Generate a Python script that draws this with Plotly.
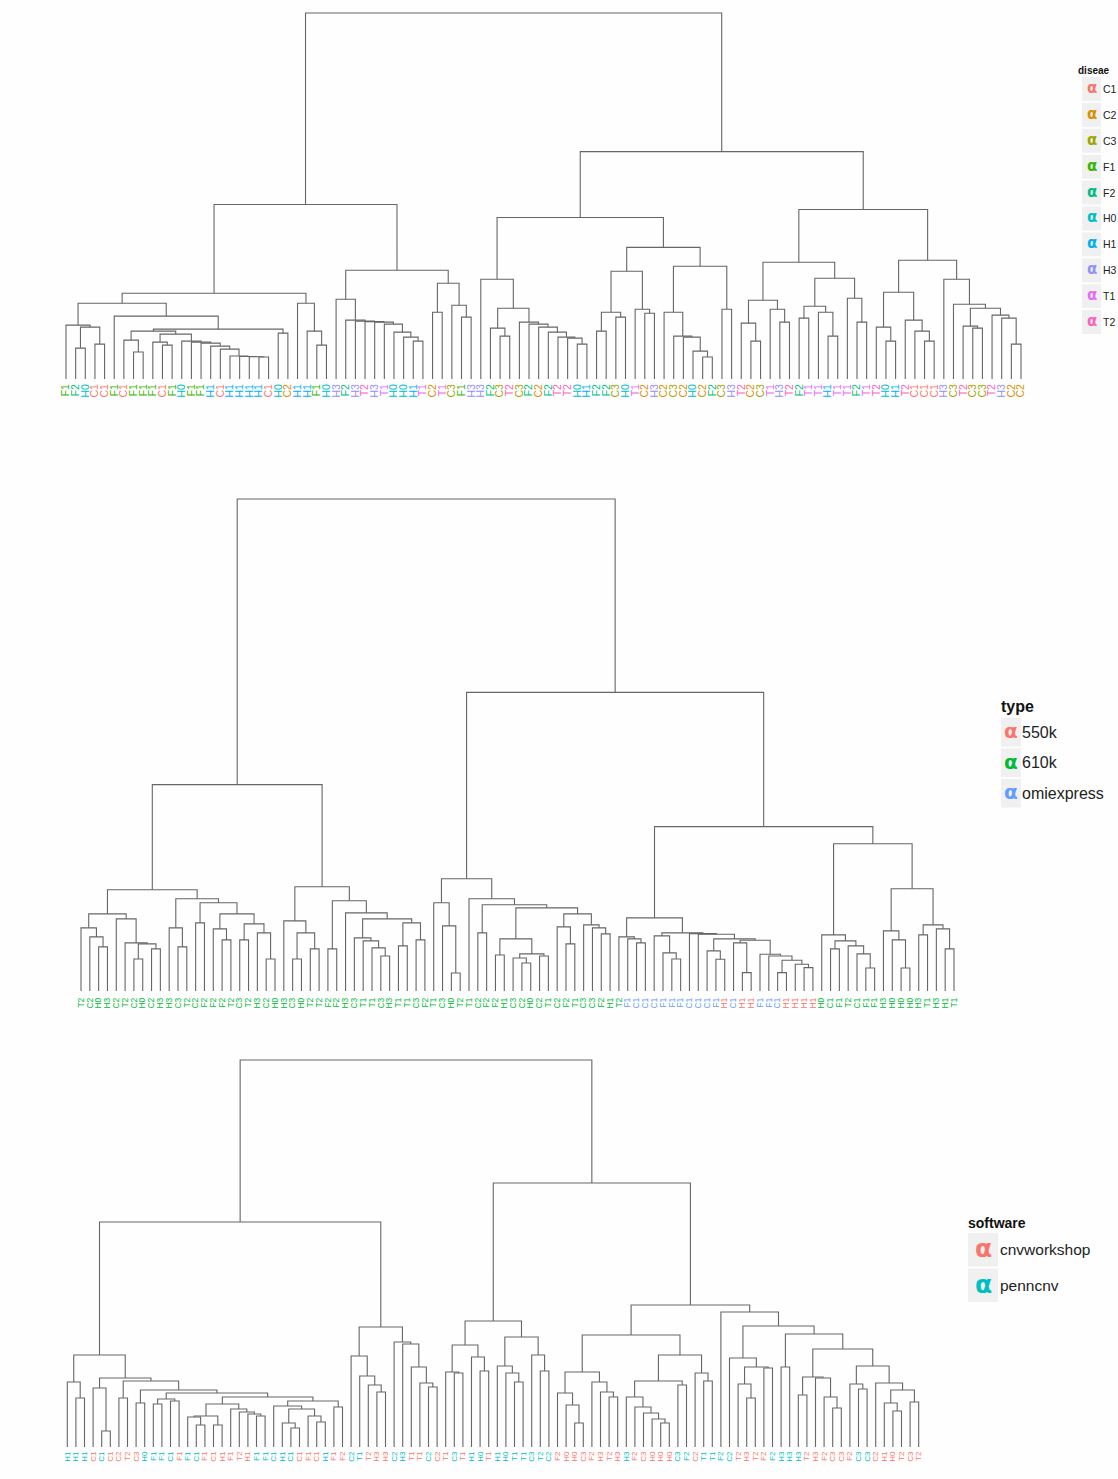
import plotly.graph_objects as go

W, H = 1118, 1479
FONT = "Liberation Sans, Arial, sans-serif"
LINE_COLOR = "#666666"

# ---------------- panel 1: disease ----------------
disease_levels = ["C1", "C2", "C3", "F1", "F2", "H0", "H1", "H3", "T1", "T2"]
disease_colors = ["#F8766D", "#D89000", "#A3A500", "#39B600", "#00BF7D",
                  "#00BFC4", "#00B0F6", "#9590FF", "#E76BF3", "#FF62BC"]

top_labels = [
    "F1", "F2", "H0", "C1", "C1", "F1", "C1", "F1", "F1", "F1",
    "C1", "F1", "H0", "F1", "F1", "H1", "C1", "H1", "H1", "H1",
    "H1", "C1", "H0", "C2", "H1", "H1", "F1", "H0", "H3", "F2",
    "H3", "T2", "H3", "T1", "H0", "H0", "H1", "T1", "C2", "T1",
    "C3", "F1", "H3", "H3", "F2", "C3", "T2", "C3", "F2", "C2",
    "F2", "T2", "T2", "H0", "H1", "F2", "F2", "C3", "H0", "T1",
    "C2", "H3", "C2", "C3", "C2", "H0", "C2", "F2", "C3", "H3",
    "T2", "C2", "C3", "T1", "H3", "T2", "F2", "T1", "T1", "H1",
    "T1", "T1", "F2", "T1", "T2", "H0", "H1", "T2", "C1", "C1",
    "C1", "H3", "C3", "T2", "C3", "C3", "T2", "H3", "C2", "C2",
]

# merge tree: (height, left, right); leaves are 1-based positions
top_tree = (367,
    (175,
        (86,
            (76,
                (54, 1, (52, (31, 2, 3), (35, 4, 5))),
                (63, 6,
                    (50,
                        (48,
                            (39, 7, (27, 8, 9)),
                            (45,
                                (37, 10, (34, 11, 12)),
                                (38, 13, (37, 14, (36, 15, (33, 16, (30, 17,
                                    (23, 18, (22.6, 19, (22.3, 20, (22, 21, 22))))))))))),
                        (46, 23, 24)))),
            (76, 25, (48, 26, (34, 27, 28)))),
        (109,
            (80, 29, (59, 30, (58, 31, (57.5, 32, (57, 33, (55, 34,
                (47, 35, (42, 36, (38, 37, 38))))))))),
            (96, (67, 39, 40), (74, 41, (62, 42, 43))))),
    (228,
        (162,
            (100, 44,
                (71,
                    (51, 45, (43, 46, 47)),
                    (57, 48, (55, 49, (52, 50, (47, 51, (42, 52, (41, 53, (35, 54, 55))))))))),
            (132,
                (108,
                    (67, (48, 56, 57), (62, 58, 59)),
                    (70, 60, (66, 61, 62))),
                (113,
                    (67, 63, (43, 64, (42, 65, (28, 66, (22, 67, 68))))),
                    (70, 69, 70)))),
        (170,
            (117,
                (79, (56, 71, (38, 72, 73)), (70, 74, (57, 75, 76))),
                (101,
                    (73, (61, 77, 78), (67, 79, (43, 80, 81))),
                    (81, 82, (57, 83, 84)))),
            (119,
                (87,
                    (52, 85, (38, 86, 87)),
                    (59, 88, (48, 89, (38, 90, 91)))),
                (100, 92,
                    (75, 93,
                        (71,
                            (53, 94, (51, 95, 96)),
                            (64, 97, (61, 98, (35, 99, 100))))))))))

# ---------------- panel 2: type ----------------
type_levels = ["550k", "610k", "omiexpress"]
type_colors = ["#F8766D", "#00BA38", "#619CFF"]

mid_labels = [
    "T2", "C2", "H0", "H3", "C2", "T2", "C2", "H0", "C2", "H3",
    "H3", "C3", "T2", "C2", "F2", "F2", "F2", "T2", "C3", "T2",
    "H3", "C2", "H0", "H3", "C3", "H0", "T2", "T2", "F2", "F2",
    "H3", "C3", "T1", "T1", "C3", "H3", "T1", "T1", "C3", "F2",
    "T1", "C3", "H0", "T2", "T1", "C2", "F2", "F2", "H1", "C3",
    "C2", "H0", "C2", "T1", "C2", "F2", "T1", "C3", "C3", "F2",
    "H1", "T2", "F1", "C1", "C1", "C1", "F1", "F1", "F1", "C1",
    "C1", "C1", "F1", "H1", "C1", "H1", "H1", "F1", "F1", "C1",
    "H1", "H1", "H1", "H1", "H0", "C1", "F1", "T2", "C1", "F1",
    "F1", "H3", "H0", "H0", "H0", "H3", "T1", "H3", "H1", "T1",
]
mid_type = (["610k"] * 62 + ["omiexpress"] * 11 + ["550k", "omiexpress", "550k", "550k"]
            + ["omiexpress"] * 3 + ["550k"] * 4 + ["610k"] * 16)

mid_tree = (491,
    (206,
        (101,
            (77,
                (63, 1, (54, 2, (44, 3, 4))),
                (72, 5, (48, 6, (47, (32, 7, 8), (42, 9, 10))))),
            (92,
                (63, 11, (44, 12, 13)),
                (88,
                    (68, 14, 15),
                    (77,
                        (62, 16, (51, 17, 18)),
                        (67, (51, 19, 20), (58, 21, (32, 22, 23))))))),
        (104,
            (70, 24, (58, (32, 25, 26), (42, 27, 28))),
            (90,
                (42, 29, 30),
                (78, 31,
                    (72,
                        (53, 32, (50, 33, (43, 34, (35, 35, 36)))),
                        (68, (45, 37, 38), (51, 39, 40))))))),
    (298,
        (112,
            (88, 41, (65, 42, (18, 43, 44))),
            (92, 45,
                (86,
                    (58, 46, 47),
                    (83,
                        (52, (36, 48, 49), (37, (33, 50, (28, 51, 52)), (35, 53, 54))),
                        (77,
                            (64, 55, (47, 56, 57)),
                            (66, 58, (63, 59, (57, 60, 61)))))))),
        (164,
            (73,
                (54, 62, (52, 63, (48, 64, 65))),
                (58,
                    (55, 66, (38, 67, (32, 68, 69))),
                    (57.3, 70,
                        (56.7, 71,
                            (52,
                                (40, 72, (31.7, 73, 74)),
                                (50.7,
                                    (48, 75, (18.3, 76, 77)),
                                    (36.7, 78, (35, 79,
                                        (30.7, (18.3, 80, 81), (26.7, 82, (23.3, 83, 84))))))))))),
            (147,
                (56, 85, (50, (42, 86, 87), (45, 88, (37, 89, (23, 90, 91))))),
                (102,
                    (60, 92, (51, 93, (23, 94, 95))),
                    (66, (56, 96, 97), (62, 98, (42, 99, 100))))))))

# ---------------- panel 3: software ----------------
soft_levels = ["cnvworkshop", "penncnv"]
soft_colors = ["#F8766D", "#00BFC4"]

bot_labels = [
    "H1", "H1", "H1", "C1", "C1", "C1", "C2", "T2", "C3", "H0",
    "F1", "F1", "C1", "F1", "F1", "C1", "F1", "C1", "H1", "F1",
    "T2", "H1", "F1", "F1", "C1", "H1", "C1", "C1", "F1", "C1",
    "H1", "F1", "F2", "C2", "T1", "T2", "H3", "H3", "C2", "H3",
    "T1", "T1", "C2", "C2", "T1", "C3", "T1", "H1", "H0", "T1",
    "H1", "H0", "T1", "T1", "C3", "T2", "C2", "F2", "H0", "H0",
    "C3", "F2", "H3", "T2", "H3", "H3", "F2", "C3", "H0", "H0",
    "H0", "C3", "F2", "C2", "T1", "T1", "F2", "C2", "T2", "H3",
    "T2", "F2", "F2", "H3", "H3", "H3", "T2", "H3", "F2", "C3",
    "C3", "F2", "C3", "C3", "C2", "H1", "H0", "T2", "C3", "T2",
]
_p, _c = "penncnv", "cnvworkshop"
bot_soft = [
    _p, _p, _p, _c, _p, _c, _c, _c, _c, _p,
    _p, _p, _p, _c, _p, _p, _c, _c, _c, _c,
    _c, _c, _p, _p, _p, _p, _p, _c, _c, _c,
    _p, _c, _c, _p, _p, _c, _c, _c, _p, _p,
    _c, _c, _p, _c, _c, _p, _c, _p, _p, _c,
    _p, _p, _p, _p, _p, _p, _p, _c, _c, _c,
    _c, _c, _c, _c, _c, _p, _c, _c, _c, _c,
    _c, _p, _p, _c, _p, _p, _p, _p, _c, _c,
    _c, _c, _p, _p, _p, _p, _c, _c, _c, _c,
    _c, _c, _p, _p, _c, _c, _c, _c, _c, _c,
]

bot_tree = (387,
    (225,
        (92,
            (65, 1, (49, 2, 3)),
            (69,
                (59, 4, (16, 5, 6)),
                (66,
                    (49, 7, 8),
                    (57,
                        (44, 9, 10),
                        (54,
                            (48, (43, 11, 12), (46, 13, 14)),
                            (50,
                                (43,
                                    (31, (30, 15, (22, 16, 17)), (22, 18, 19)),
                                    (38, 20, (35, 21, (33, 22, (31, 23, 24))))),
                                (46,
                                    (41, 25,
                                        (38,
                                            (24, 26, (19, 27, 28)),
                                            (31, 29, (25, 30, 31)))),
                                    (40, 32, 33)))))))),
        (120,
            (91, 34, (71, 35, (62, 36, (55, 37, 38)))),
            (105, 39, (103, 40, (80, 41, (64, 42, (60, 43, 44))))))),
    (264,
        (126,
            (102, (75, 45, (74, 46, 47)), (90, 48, (76, 49, 50))),
            (110,
                (81, 51, (74, 52, (65, 53, 54))),
                (92, 55, (76, 56, 57)))),
        (142,
            (112,
                (75,
                    (54, 58, (42, 59, (24, 60, 61))),
                    (65, 62, (55, 63, (50, 64, 65)))),
                (92,
                    (66,
                        (50, 66, (40, 67, (34, 68, (28, 69, (24, 70, 71))))),
                        (62, 72, 73)),
                    (74, 74, (66, 75, 76)))),
            (135, 77,
                (121,
                    (89, 78, (80, (63, 79, (49, 80, 81)), (79, 82, 83))),
                    (113,
                        (80, 84, 85),
                        (98,
                            (70, (52, 86, 87), (69, 88, (50, 89, (39, 90, 91)))),
                            (81,
                                (63, 92, (58, 93, 94)),
                                (64, 95, (57, (44, 96, (36, 97, 98)), (45, 99, 100)))))))))))


def dendro_segments(tree, n):
    """Walk the merge tree and return the elbow segments (x, height)."""
    xs, ys, leaves = [], [], []

    def rec(node):
        if isinstance(node, int):
            leaves.append(node)
            return float(node), 0.0
        h, a, b = node
        xa, ha = rec(a)
        xb, hb = rec(b)
        xs.extend([xa, xa, xb, xb, None])
        ys.extend([ha, h, h, hb, None])
        return (xa + xb) / 2.0, h

    rec(tree)
    assert leaves == list(range(1, n + 1)), "leaf order mismatch"
    return xs, ys


def colored(text, color):
    return f'<span style="color:{color}">{text}</span>'


fig = go.Figure()

panels = [
    dict(tree=top_tree, labels=top_labels, groups=top_labels, levels=disease_levels,
         colors=disease_colors, x0=66, x1=1021, yb=379, yr=13, fs=10.5, stand=2),
    dict(tree=mid_tree, labels=mid_labels, groups=mid_type, levels=type_levels,
         colors=type_colors, x0=81, x1=954, yb=991, yr=499, fs=8.5, stand=4),
    dict(tree=bot_tree, labels=bot_labels, groups=bot_soft, levels=soft_levels,
         colors=soft_colors, x0=67.3, x1=918.7, yb=1447, yr=1060, fs=8, stand=2),
]

for i, p in enumerate(panels):
    n = len(p["labels"])
    root_h = p["tree"][0]
    xs, ys = dendro_segments(p["tree"], n)
    sfx = "" if i == 0 else str(i + 1)
    fig.add_trace(go.Scatter(x=xs, y=ys, mode="lines",
                             line=dict(color=LINE_COLOR, width=1.1),
                             hoverinfo="skip", showlegend=False,
                             xaxis="x" + sfx, yaxis="y" + sfx))
    dx = (p["x1"] - p["x0"]) / (n - 1)
    pad = 0.7
    xdom = [(p["x0"] - pad * dx) / W, (p["x1"] + pad * dx) / W]
    ppu = (p["yb"] - p["yr"]) / root_h
    top_extra = 2.0 / ppu
    ydom = [1 - p["yb"] / H, 1 - (p["yr"] - 2.0) / H]
    cmap = dict(zip(p["levels"], p["colors"]))
    ticktext = [colored(lab, cmap[g]) for lab, g in zip(p["labels"], p["groups"])]
    fig.layout["xaxis" + sfx] = dict(
        domain=xdom, range=[1 - pad, n + pad], anchor="y" + sfx,
        tickmode="array", tickvals=list(range(1, n + 1)), ticktext=ticktext,
        tickangle=-90, ticks="", showline=False, showgrid=False, zeroline=False,
        tickfont=dict(family=FONT, size=p["fs"]), ticklabelstandoff=p["stand"],
        fixedrange=True)
    fig.layout["yaxis" + sfx] = dict(
        domain=ydom, range=[0, root_h + top_extra], anchor="x" + sfx,
        visible=False, showgrid=False, zeroline=False, fixedrange=True)


def px(x):
    return x / W


def py(y):
    return 1 - y / H


annotations = []
shapes = []

KEY_FONT = "DejaVu Sans, sans-serif"


def draw_legend(title, levels, colors, title_x, title_y, title_size,
                key_x0, key_x1, row_y0, row_h, glyph_size, text_x, text_size):
    annotations.append(dict(text=f"<b>{title}</b>", x=px(title_x), y=py(title_y),
                            xref="paper", yref="paper", xanchor="left", yanchor="middle",
                            showarrow=False, font=dict(family=FONT, size=title_size, color="#111")))
    for k, (lev, col) in enumerate(zip(levels, colors)):
        top = row_y0 + k * row_h
        cy = top + row_h / 2
        shapes.append(dict(type="rect", xref="paper", yref="paper",
                           x0=px(key_x0), x1=px(key_x1), y0=py(top + 1), y1=py(top + row_h - 1),
                           fillcolor="#f0f0f0", line=dict(width=0), layer="below"))
        annotations.append(dict(text="<b>α</b>", x=px((key_x0 + key_x1) / 2), y=py(cy - 1),
                                xref="paper", yref="paper", xanchor="center", yanchor="middle",
                                showarrow=False, font=dict(family=KEY_FONT, size=glyph_size, color=col)))
        annotations.append(dict(text=lev, x=px(text_x), y=py(cy),
                                xref="paper", yref="paper", xanchor="left", yanchor="middle",
                                showarrow=False, font=dict(family=FONT, size=text_size, color="#222")))


draw_legend("diseae", disease_levels, disease_colors, 1076, 70, 10,
            1082, 1101, 76, 25.9, 15, 1101, 10.5)
draw_legend("type", type_levels, type_colors, 999, 706, 16,
            1001, 1021, 717, 30.5, 20, 1020, 16)
draw_legend("software", soft_levels, soft_colors, 966, 1223, 14,
            968, 998, 1232, 35.5, 25, 998, 15.5)

fig.update_layout(
    width=W, height=H, margin=dict(l=0, r=0, t=0, b=0),
    paper_bgcolor="#fefefe", plot_bgcolor="rgba(0,0,0,0)",
    showlegend=False, annotations=annotations, shapes=shapes,
)

fig.write_html("out.html", config={"displayModeBar": False})
